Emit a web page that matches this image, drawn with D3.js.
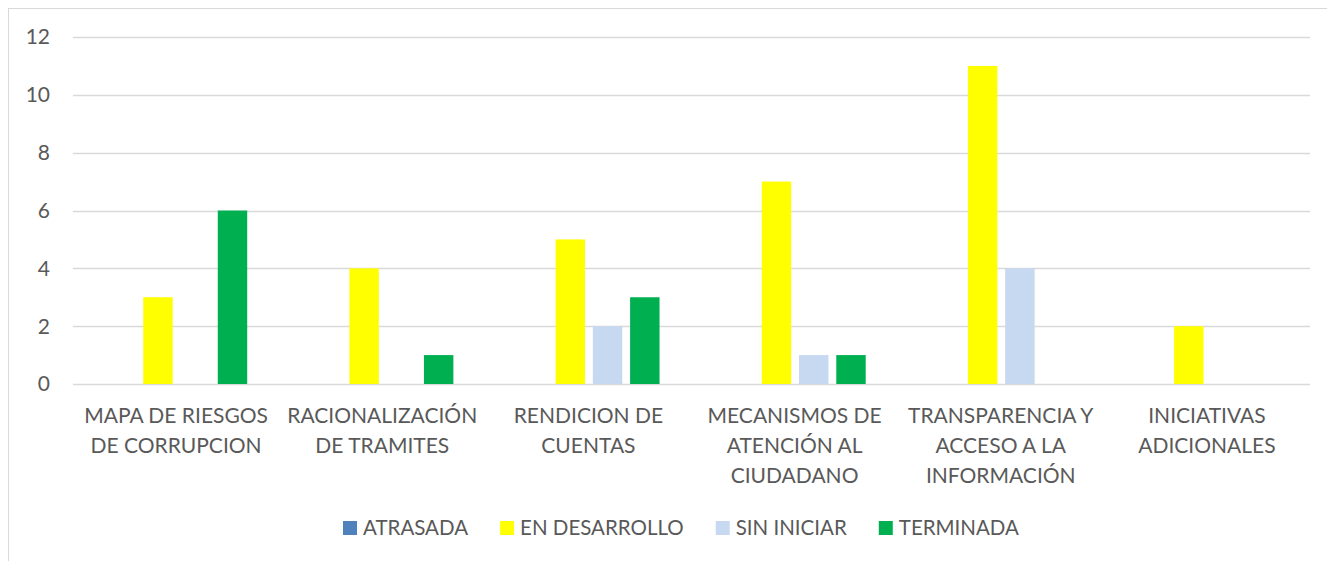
<!DOCTYPE html>
<html>
<head>
<meta charset="utf-8">
<script src="https://cdn.jsdelivr.net/npm/d3@7"></script>
<style>
  body { margin: 0; background: #fff; }
  svg text { font-family: Lato, "Open Sans", sans-serif; fill: #595959; }
</style>
</head>
<body>
<div id="chart"></div>
<script>
// Chart data
const categories = [
    "MAPA DE RIESGOS\nDE CORRUPCION",
    "RACIONALIZACIÓN\nDE TRAMITES",
    "RENDICION DE\nCUENTAS",
    "MECANISMOS DE\nATENCIÓN AL\nCIUDADANO",
    "TRANSPARENCIA Y\nACCESO A LA\nINFORMACIÓN",
    "INICIATIVAS\nADICIONALES"
];
const seriesNames = ["ATRASADA", "EN DESARROLLO", "SIN INICIAR", "TERMINADA"];
const atrasada     = [0, 0, 0, 0, 0, 0];
const enDesarrollo = [3, 4, 5, 7, 11, 2];
const sinIniciar   = [0, 0, 2, 1, 4, 0];
const terminada    = [6, 1, 3, 1, 0, 0];
const yTicks = [0, 2, 4, 6, 8, 10, 12];

const seriesValues = [atrasada, enDesarrollo, sinIniciar, terminada];
const colors = ["#4f81bd", "#ffff00", "#c6d9f1", "#00b050"];

const W = 1327, H = 561;
const plot = {left: 73, right: 1310, top: 37, bottom: 384};

const svg = d3.select("#chart").append("svg")
    .attr("width", W)
    .attr("height", H);

// outer chart border
svg.append("rect")
    .attr("x", 8.5).attr("y", 8.5)
    .attr("width", W).attr("height", H)
    .attr("fill", "none")
    .attr("stroke", "#d9d9d9");

const x0 = d3.scaleBand()
    .domain(categories)
    .range([plot.left, plot.right]);

const groupW = x0.bandwidth();
const x1 = d3.scaleBand()
    .domain(seriesNames)
    .range([groupW * 0.16, groupW * 0.845])
    .paddingInner(0.21);

const y = d3.scaleLinear()
    .domain([0, 12])
    .range([plot.bottom, plot.top]);

// gridlines
svg.append("g")
    .selectAll("line")
    .data(yTicks)
    .enter()
    .append("line")
    .attr("x1", plot.left)
    .attr("x2", plot.right)
    .attr("y1", d => Math.round(y(d)) + 0.5)
    .attr("y2", d => Math.round(y(d)) + 0.5)
    .attr("stroke", "#d9d9d9")
    .attr("stroke-width", 1.3);

// y axis labels
svg.append("g")
    .selectAll("text")
    .data(yTicks)
    .enter()
    .append("text")
    .attr("x", 50)
    .attr("y", d => y(d))
    .attr("dy", "0.35em")
    .attr("text-anchor", "end")
    .style("font-size", "21px")
    .text(d => d);

// bars
const rows = [];
categories.forEach((c, i) => {
    seriesNames.forEach((s, j) => {
        rows.push({cat: c, series: s, value: seriesValues[j][i], color: colors[j]});
    });
});

svg.append("g")
    .selectAll("rect")
    .data(rows.filter(d => d.value > 0))
    .enter()
    .append("rect")
    .attr("x", d => x0(d.cat) + x1(d.series))
    .attr("y", d => y(d.value))
    .attr("width", x1.bandwidth())
    .attr("height", d => y(0) - y(d.value))
    .attr("fill", d => d.color);

// category labels
const catLabels = svg.append("g")
    .selectAll("text")
    .data(categories)
    .enter()
    .append("text")
    .attr("text-anchor", "middle")
    .style("font-size", "21px")
    .attr("transform", d => `translate(${x0(d) + groupW / 2},423)`);

catLabels.selectAll("tspan")
    .data(d => d.split("\n"))
    .enter()
    .append("tspan")
    .attr("x", 0)
    .attr("y", (d, i) => i * 30)
    .text(d => d);

// legend
const legend = svg.append("g").attr("transform", "translate(0,535)");
let lx = 343;
seriesNames.forEach((s, i) => {
    legend.append("rect")
        .attr("x", lx).attr("y", -14)
        .attr("width", 14).attr("height", 14)
        .attr("fill", colors[i]);
    const t = legend.append("text")
        .attr("x", lx + 20)
        .attr("y", 0)
        .style("font-size", "20.5px")
        .text(s);
    lx += 20 + t.node().getComputedTextLength() + 32;
});
</script>
</body>
</html>
